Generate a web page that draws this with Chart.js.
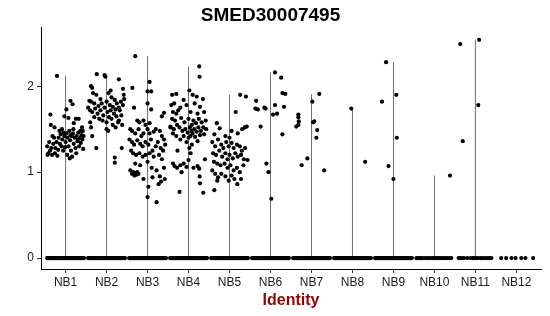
<!DOCTYPE html>
<html>
<head>
<meta charset="utf-8">
<script src="https://cdn.jsdelivr.net/npm/chart.js@4"></script>
<style>
  html, body { margin: 0; padding: 0; background: #fff; }
  #wrap { width: 550px; height: 316px; }
</style>
</head>
<body>
<div id="wrap"><canvas id="chart"></canvas></div>
<script>
// groups on the x axis
const categories = ['NB1','NB2','NB3','NB4','NB5','NB6','NB7','NB8','NB9','NB10','NB11','NB12'];
const yTicks = [0, 1, 2];

// expressing cells : [jitter offset, expression]
const nb1 = [[-0.21,2.12],[0.12,1.83],[0.17,1.79],[0.02,1.73],[-0.03,1.65],[0.07,1.63],[-0.37,1.67],[-0.36,1.55],[-0.27,1.52],[-0.15,1.48],[0.25,1.62],[0.32,1.62],[0.2,1.57],[0.4,1.52],[0.42,1.48],[-0.45,1.30],[-0.42,1.22],[-0.38,1.25],[-0.33,1.20],[-0.3,1.33],[-0.25,1.28],[-0.22,1.35],[-0.2,1.19],[-0.17,1.4],[-0.12,1.44],[-0.1,1.3],[-0.08,1.38],[-0.05,1.46],[-0.03,1.42],[0,1.35],[0.02,1.45],[0.05,1.40],[0.07,1.30],[0.09,1.48],[0.11,1.37],[0.13,1.25],[0.15,1.42],[0.18,1.45],[0.2,1.33],[0.22,1.40],[0.24,1.28],[0.27,1.42],[0.29,1.36],[0.31,1.46],[0.33,1.30],[0.35,1.40],[0.37,1.34],[0.39,1.43],[0.41,1.38],[0.43,1.27],[-0.4,1.35],[-0.35,1.28],[-0.28,1.40],[-0.26,1.22],[-0.18,1.26],[-0.14,1.33],[-0.06,1.25],[0.04,1.20],[0.1,1.16],[0.16,1.18],[0.26,1.22],[0.12,1.43],[-0.01,1.29],[0.3,1.38],[0.36,1.48],[0.44,1.42],[-0.44,1.2],[-0.32,1.42],[0.19,1.50],[-0.09,1.50]];
const nb2 = [[-0.24,2.14],[-0.05,2.13],[-0.03,2.11],[0.3,2.08],[-0.38,2.0],[-0.35,1.98],[0.4,1.97],[0.05,1.92],[-0.33,1.92],[0.12,1.87],[0.42,1.9],[-0.42,1.83],[-0.38,1.82],[-0.3,1.8],[-0.2,1.77],[-0.12,1.8],[-0.05,1.75],[0.0,1.82],[0.08,1.78],[0.15,1.76],[0.2,1.84],[0.25,1.8],[0.3,1.75],[0.35,1.82],[0.4,1.78],[-0.45,1.75],[-0.4,1.72],[-0.35,1.7],[-0.28,1.74],[-0.22,1.68],[-0.15,1.72],[-0.08,1.66],[0.02,1.7],[0.06,1.64],[0.1,1.72],[0.18,1.68],[0.24,1.65],[0.3,1.6],[0.36,1.66],[0.22,1.73],[-0.3,1.64],[-0.18,1.62],[-0.1,1.6],[0.0,1.58],[0.12,1.62],[0.28,1.58],[0.38,1.55],[-0.4,1.58],[-0.38,1.52],[-0.35,1.42],[-0.25,1.28],[0.0,1.5],[0.04,1.48],[0.15,1.55],[0.22,1.52],[0.32,1.72],[0.43,1.85],[0.2,1.17],[0.2,1.11],[0.37,1.28],[-0.15,1.85],[0.1,1.95],[-0.25,1.9]];
const nb3 = [[-0.3,2.35],[0.05,2.05],[0.0,1.94],[0.09,1.94],[-0.37,1.98],[0.0,1.8],[0.09,1.73],[-0.33,1.75],[0.4,1.69],[0.35,1.65],[-0.25,1.6],[-0.2,1.58],[-0.1,1.6],[-0.05,1.55],[0.05,1.57],[-0.42,1.5],[-0.38,1.48],[-0.3,1.45],[-0.22,1.5],[-0.15,1.42],[-0.1,1.45],[0.0,1.5],[0.05,1.45],[0.15,1.47],[0.2,1.5],[0.3,1.48],[0.35,1.42],[0.4,1.38],[-0.44,1.38],[-0.38,1.35],[-0.33,1.32],[-0.25,1.37],[-0.18,1.33],[-0.12,1.3],[-0.05,1.35],[0.02,1.32],[0.08,1.38],[0.12,1.25],[0.2,1.3],[0.25,1.35],[0.32,1.28],[0.38,1.25],[0.43,1.32],[-0.4,1.25],[-0.35,1.22],[-0.28,1.2],[-0.2,1.22],[-0.12,1.18],[-0.05,1.2],[0.05,1.22],[0.15,1.18],[0.28,1.2],[0.35,1.15],[-0.3,1.1],[-0.18,1.08],[0.0,1.12],[0.1,1.05],[0.22,1.02],[0.4,1.05],[-0.42,1.02],[-0.38,0.98],[-0.35,1.0],[-0.32,0.96],[-0.3,0.99],[-0.27,0.97],[-0.25,1.0],[-0.22,0.98],[0.12,0.94],[0.33,0.89],[0.27,0.86],[0.02,0.83],[0.0,0.71],[0.22,0.65],[0.3,0.95],[-0.1,0.92],[0.42,0.92]];
const nb4 = [[0.26,2.23],[0.27,2.11],[0.02,1.95],[-0.4,1.9],[-0.3,1.91],[0.1,1.9],[0.2,1.88],[-0.12,1.84],[0.35,1.85],[-0.42,1.78],[-0.35,1.8],[-0.2,1.75],[-0.05,1.78],[0.15,1.8],[0.28,1.76],[-0.38,1.7],[-0.3,1.68],[-0.25,1.72],[0.05,1.7],[0.22,1.68],[0.38,1.7],[-0.4,1.62],[-0.33,1.6],[-0.18,1.63],[-0.1,1.58],[0.0,1.62],[0.08,1.55],[0.12,1.6],[0.18,1.57],[0.25,1.62],[0.32,1.58],[0.42,1.6],[-0.44,1.53],[-0.36,1.5],[-0.28,1.55],[-0.22,1.52],[-0.15,1.48],[-0.08,1.5],[-0.02,1.46],[0.03,1.52],[0.07,1.48],[0.1,1.45],[0.14,1.5],[0.2,1.47],[0.24,1.52],[0.3,1.48],[0.36,1.52],[0.43,1.5],[-0.38,1.45],[-0.3,1.42],[-0.12,1.42],[0.0,1.4],[0.05,1.42],[0.16,1.41],[0.28,1.43],[0.38,1.44],[-0.2,1.38],[-0.05,1.35],[0.08,1.32],[0.22,1.36],[-0.27,1.25],[0.02,1.28],[0.05,1.22],[-0.38,1.1],[-0.34,1.07],[-0.28,1.05],[-0.2,1.08],[-0.12,1.1],[-0.05,1.06],[0.0,1.14],[0.12,1.05],[0.22,1.07],[0.26,1.04],[0.27,0.95],[-0.17,1.0],[0.28,0.87],[-0.22,0.77],[0.36,0.76],[0.4,1.15],[-0.44,1.52]];
const nb5 = [[0.26,1.9],[0.4,1.88],[0.15,1.7],[-0.31,1.57],[-0.24,1.51],[-0.37,1.44],[0.37,1.52],[0.31,1.5],[0.42,1.53],[0.2,1.45],[0.05,1.48],[-0.1,1.42],[-0.42,1.35],[-0.35,1.3],[-0.28,1.38],[-0.2,1.32],[-0.15,1.28],[-0.08,1.35],[-0.02,1.3],[0.05,1.34],[0.1,1.28],[0.18,1.32],[0.25,1.3],[0.3,1.25],[0.38,1.28],[-0.4,1.22],[-0.33,1.2],[-0.25,1.25],[-0.18,1.18],[-0.1,1.22],[0.0,1.2],[0.08,1.16],[0.14,1.22],[0.2,1.18],[0.28,1.2],[0.35,1.15],[0.44,1.14],[-0.38,1.12],[-0.3,1.1],[-0.22,1.08],[-0.12,1.1],[-0.05,1.05],[0.02,1.08],[0.1,1.02],[0.18,1.05],[0.25,1.0],[0.34,1.08],[-0.42,1.02],[-0.35,0.98],[-0.28,0.94],[-0.2,0.98],[-0.1,0.95],[-0.02,0.9],[0.05,0.96],[0.12,0.92],[0.19,0.86],[-0.37,0.79],[-0.3,0.9],[0.28,0.92],[0.0,1.4],[-0.05,1.15]];
const nb6 = [[-0.35,1.83],[-0.37,1.74],[-0.31,1.73],[-0.15,1.75],[-0.12,1.74],[0.11,2.16],[0.26,2.1],[0.29,1.92],[0.36,1.91],[0.11,1.78],[0.33,1.76],[0.06,1.67],[0.16,1.68],[-0.24,1.53],[0.29,1.44],[-0.1,1.1],[-0.05,1.0],[0.02,0.69]];
const nb7 = [[-0.32,1.67],[-0.32,1.64],[-0.31,1.59],[-0.32,1.55],[-0.37,1.53],[0.02,1.82],[0.19,1.91],[0.07,1.59],[0.04,1.58],[0.14,1.49],[0.12,1.4],[-0.1,1.16],[-0.24,1.08],[0.31,1.02]];
const nb8 = [[-0.03,1.74],[0.31,1.12]];
const nb9 = [[-0.18,2.28],[0.07,1.9],[-0.28,1.82],[0.08,1.4],[-0.12,1.07],[0.0,0.92]];
const nb10 = [[0.38,0.96]];
const nb11 = [[-0.37,2.49],[0.09,2.54],[0.07,1.78],[-0.31,1.36]];
const nb12 = [];
const expressed = [nb1, nb2, nb3, nb4, nb5, nb6, nb7, nb8, nb9, nb10, nb11, nb12];

// cells at zero : jitter offsets only
const zeroDense = [-0.45,-0.43,-0.41,-0.39,-0.37,-0.35,-0.33,-0.31,-0.29,-0.27,-0.25,-0.23,-0.21,-0.19,-0.17,-0.15,-0.13,-0.11,-0.09,-0.07,-0.05,-0.03,-0.01,0.01,0.03,0.05,0.07,0.09,0.11,0.13,0.15,0.17,0.19,0.21,0.23,0.25,0.27,0.29,0.31,0.33,0.35,0.37,0.39,0.41,0.43,0.45];
const zeroNb10 = [-0.44,-0.4,-0.36,-0.32,-0.28,-0.22,-0.17,-0.12,-0.06,-0.02,0.03,0.08,0.13,0.17,0.22,0.26,0.31,0.36,0.41];
const zeroNb11 = [-0.41,-0.37,-0.33,-0.28,-0.2,-0.12,-0.07,-0.03,0.02,0.06,0.12,0.16,0.21,0.27,0.31,0.35,0.39];
const zeroNb12 = [-0.37,-0.25,-0.12,-0.02,0.12,0.22,0.41];
const zeros = [zeroDense, zeroDense, zeroDense, zeroDense, zeroDense, zeroDense, zeroDense, zeroDense, zeroDense, zeroNb10, zeroNb11, zeroNb12];

const FONT = "'Liberation Sans', Arial, sans-serif";

// points
const points = [];
categories.forEach((c, i) => {
  zeros[i].forEach(dx => points.push({x: i + 1 + dx, y: 0}));
  expressed[i].forEach(p => points.push({x: i + 1 + p[0], y: p[1]}));
});

// thin violins : a line from 0 to the group max
const lineSets = [];
categories.forEach((c, i) => {
  const vals = expressed[i].map(p => p[1]);
  if (!vals.length) return;
  const top = Math.max(...vals);
  lineSets.push({
    type: 'line',
    data: [{x: i + 1, y: 0}, {x: i + 1, y: top}],
    borderColor: '#6e6e6e',
    borderWidth: 1,
    pointRadius: 0,
    fill: false,
    order: 2
  });
});

const ctx = document.getElementById('chart');
const myChart = new Chart(ctx, {
  type: 'scatter',
  data: {
    datasets: [{
      data: points,
      backgroundColor: '#000000',
      borderWidth: 0,
      pointRadius: 2.1,
      pointHoverRadius: 2.1,
      order: 1
    }].concat(lineSets)
  },
  options: {
    responsive: true,
    maintainAspectRatio: false,
    animation: false,
    events: [],
    layout: { padding: { right: 9, top: 0, bottom: 0, left: 0 } },
    plugins: {
      legend: { display: false },
      tooltip: { enabled: false },
      title: {
        display: true,
        text: 'SMED30007495',
        color: '#000',
        font: { family: FONT, size: 19, weight: 'bold', lineHeight: 1.2 },
        padding: { top: 4, bottom: 1 }
      }
    },
    scales: {
      x: {
        type: 'linear',
        min: 0.4,
        max: 12.6,
        afterBuildTicks: (scale) => {
          scale.ticks = categories.map((c, i) => ({ value: i + 1 }));
        },
        afterFit: (scale) => { scale.height = 47; },
        ticks: {
          autoSkip: false,
          maxRotation: 0,
          padding: 2,
          color: '#1a1a1a',
          font: { family: FONT, size: 12 },
          callback: (v) => categories[Math.round(v) - 1]
        },
        grid: { drawOnChartArea: false, drawTicks: true, tickLength: 4, color: '#333' },
        border: { display: true, color: '#000', width: 1 },
        title: {
          display: true,
          text: 'Identity',
          color: '#990000',
          font: { family: FONT, size: 16, weight: 'bold' },
          padding: { top: 0, bottom: 6 }
        }
      },
      y: {
        min: -0.1275,
        max: 2.68,
        afterBuildTicks: (scale) => {
          scale.ticks = yTicks.map(v => ({ value: v }));
        },
        afterFit: (scale) => { scale.width = 41; },
        ticks: {
          padding: 3,
          color: '#1a1a1a',
          font: { family: FONT, size: 12 }
        },
        grid: { drawOnChartArea: false, drawTicks: true, tickLength: 4, color: '#333' },
        border: { display: true, color: '#000', width: 1 }
      }
    }
  }
});
</script>
</body>
</html>
